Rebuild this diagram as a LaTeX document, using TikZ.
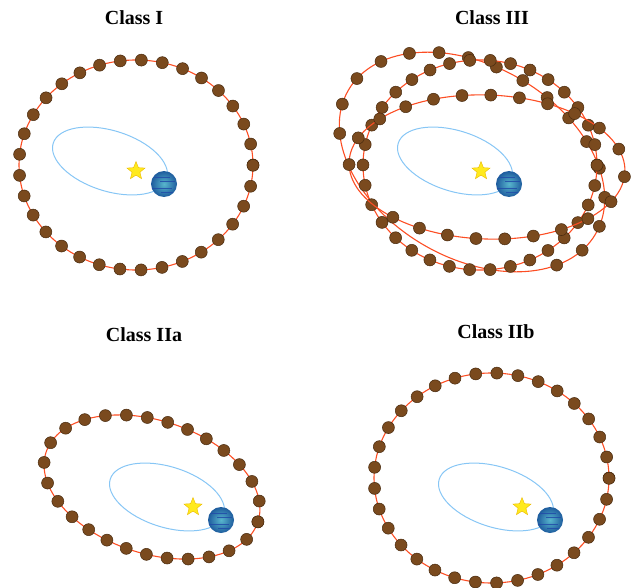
\documentclass[tikz,border=0pt]{standalone}
\usepackage{fontspec}
\setmainfont{Liberation Serif}
\usetikzlibrary{shapes.geometric,decorations.markings}

\definecolor{ringred}{RGB}{252,78,36}
\definecolor{rockbrown}{RGB}{122,74,30}
\definecolor{rockedge}{RGB}{72,42,14}
\definecolor{orbitblue}{RGB}{135,198,245}
\definecolor{staryellow}{RGB}{255,234,30}
\definecolor{staredge}{RGB}{235,185,0}
\definecolor{planetlight}{RGB}{88,182,205}
\definecolor{planetdark}{RGB}{30,92,158}
\definecolor{planetstripe}{RGB}{34,76,168}

\begin{document}
\begin{tikzpicture}[
    x=1pt, y=1pt,
    title/.style={font=\bfseries\fontsize{20}{24}\selectfont},
    orbit/.style={draw=orbitblue, line width=1pt},
    ring/.style={draw=ringred, line width=1.1pt},
    rock/.style={
        circle,
        draw=rockedge,
        fill=rockbrown,
        line width=0.5pt,
        minimum size=12pt,
        inner sep=0pt
    },
    rocks/.style 2 args={
        postaction={decorate, decoration={markings,
            mark=between positions 0 and 1 step 1/#1 with
                {\node[rock] (#2\pgfkeysvalueof{/pgf/decoration/mark info/sequence number}) {};}}}
    },
    sun/.style={
        star, star points=5, star point ratio=2.3,
        minimum size=19pt, inner sep=0pt,
        fill=staryellow, draw=staredge, line width=0.4pt
    },
    band/.style={draw=planetstripe, line width=0.8pt, opacity=0.85},
    planet/.style={
        circle, minimum size=26pt, inner sep=0pt,
        inner color=planetlight, outer color=planetdark,
        path picture={
            \foreach \by/\bx/\bw in {7/-10/16, 3/-4/15, -4/-12/20, -8/-3/12}
                \draw[band] ([shift={(\bx,\by)}]path picture bounding box.center) -- ++(\bw,0);
        }
    }
]
\useasboundingbox (0,0) rectangle (631,-588);

% ============================================================
% TITLES
% ============================================================
\node[title] (tI)   at (134,-18)  {Class I};
\node[title] (tIII) at (492,-18)  {Class III};
\node[title] (tIIa) at (144,-335) {Class IIa};
\node[title] (tIIb) at (496,-332) {Class IIb};

% ============================================================
% STAR, PLANET AND ITS ORBIT (same in every panel)
% ============================================================
\foreach \sx/\sy/\id in {0/0/I, 345/0/III, 57/336/IIa, 386/336/IIb} {
    \begin{scope}[shift={(\sx,-\sy)}]
        \draw[orbit, rotate around={-17.4:(110,-161)}] (110,-161) ellipse [x radius=59.5, y radius=30.3];
        \node[sun] (star\id) at (136,-171) {};
        \node[planet] (planet\id) at (164,-184) {};
    \end{scope}
}

% ============================================================
% CLASS I: wide ring
% ============================================================
\draw[ring, rocks={33}{I-}] (136,-165) ellipse [x radius=117, y radius=105];

% ============================================================
% CLASS III: three rings
% ============================================================
\begin{scope}[shift={(472,-162)}, rotate=-30.2]
    \draw[ring] (0,0) ellipse [x radius=143, y radius=96];
    \path[rocks={17}{IIIa-}] (-29:143 and 96) arc [start angle=-29, end angle=221, x radius=143, y radius=96];
\end{scope}
\draw[ring, rocks={34}{IIIb-}] (480,-165) ellipse [x radius=117, y radius=105];
\begin{scope}[shift={(487,-167)}, rotate=-2]
    \draw[ring] (0,0) ellipse [x radius=138, y radius=72];
    \path[rocks={21}{IIIc-}] (-132:138 and 72) arc [start angle=-132, end angle=182, x radius=138, y radius=72];
\end{scope}

% ============================================================
% CLASS IIa: tilted eccentric ring
% ============================================================
\begin{scope}[shift={(152,-487)}, rotate=-18.2]
    \draw[ring, rocks={27}{IIa-}] (0,0) ellipse [x radius=111.5, y radius=66.4];
\end{scope}

% ============================================================
% CLASS IIb: offset ring
% ============================================================
\draw[ring, rocks={33}{IIb-}] (491.5,-478) ellipse [x radius=117.5, y radius=105];

\end{tikzpicture}
\end{document}
